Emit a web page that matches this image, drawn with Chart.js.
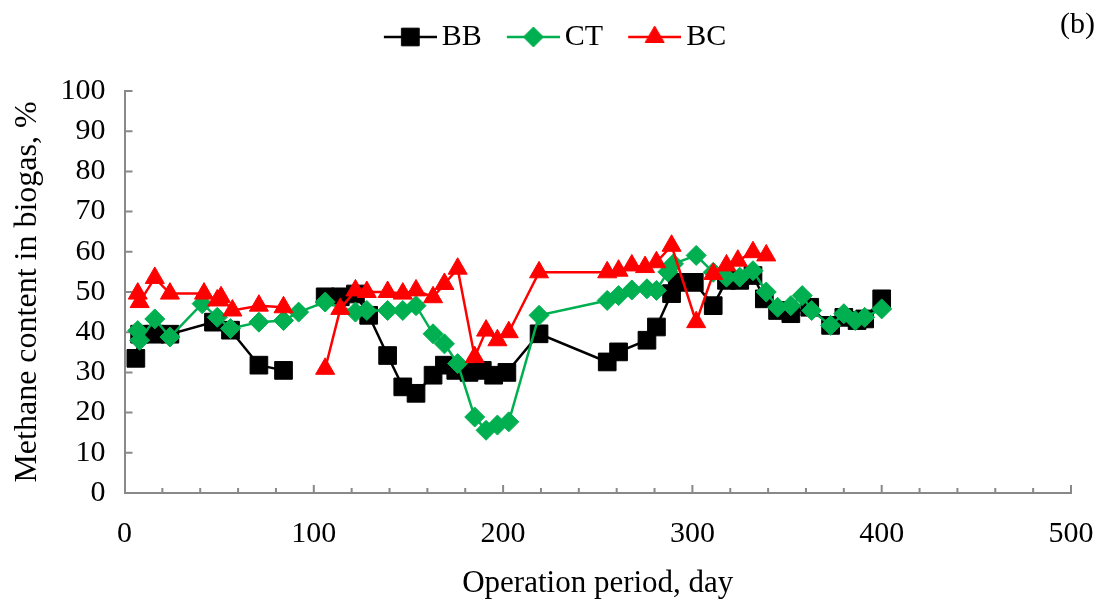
<!DOCTYPE html>
<html>
<head>
<meta charset="utf-8">
<title>Methane content in biogas</title>
<script src="https://cdn.jsdelivr.net/npm/chart.js@4.4.1/dist/chart.umd.min.js"></script>
<style>
  html, body { margin: 0; padding: 0; background: #fff; }
  #wrap { position: relative; width: 1100px; height: 607px; }
</style>
</head>
<body>
<div id="wrap"><canvas id="chart"></canvas></div>
<script>
// BB series (null = break in the line)
const bbDays = [6, 8, 16, 24, 47, 56, 71, 84, 95, 106, 114, 122, 129, 139, 147, 154, 163, 169, 175, 182, 189, 195, 202, 219,
    255, 261, 276, 281, 289, 292, 301, 311, 318, 325, 332, 338, 345, 352, 362, 373, 380, 387, 391, 400];
const bbValues = [33.5, 39.5, 39.5, 39.5, 42.5, 40.5, 31.8, 30.5, null, 48.8, 48.8, 49.5, 44.2, 34.2, 26.4, 24.8, 29.3, 31.8, 30.5, 30, 30.5, 29.3, 30, 39.6,
    32.6, 35.1, 38, 41.3, 49.6, 52.4, 52.4, 46.6, 52.9, 52.9, 54.1, 48.3, 45.4, 44.6, 46.2, 41.7, 43.7, 42.9, 43.3, 48.3];

// CT series
const ctDays = [7, 8, 16, 24, 41, 49, 56, 71, 84, 92, 106, 122, 128, 139, 147, 154, 163, 169, 176, 185, 191, 197, 203, 219,
    255, 261, 268, 276, 281, 287, 290, 302, 311, 318, 325, 332, 339, 345, 352, 358, 363, 373, 380, 386, 391, 400];
const ctValues = [40.4, 38, 43.3, 38.8, 47.1, 43.7, 40.9, 42.5, 42.9, 45, 47.5, 45, 45.4, 45.4, 45.4, 46.6, 39.6, 37.1, 32.2, 18.9, 15.6, 16.9, 17.7, 44.2,
    47.9, 49.1, 50.5, 50.8, 50.4, 55, 57, 59.1, 54.9, 53.7, 53.7, 55.3, 50, 46.2, 46.6, 49.1, 45.4, 41.7, 44.6, 42.9, 43.7, 45.8];

// BC series (null = break in the line)
const bcDays = [7, 8, 16, 24, 42, 49, 51, 57, 71, 84, 95, 106, 114, 122, 128, 139, 147, 154, 163, 169, 176, 185, 191, 197, 203, 219,
    255, 261, 268, 275, 281, 289, 302, 311, 318, 324, 332, 339];
const bcValues = [49.6, 47.5, 53.5, 49.6, 49.6, 47.9, 48.7, 45.4, 46.6, 46.2, null, 30.9, 45.8, 50.4, 50, 50, 49.6, 50.4, 48.7, 52, 55.8, 33.8, 40.4, 38, 40, 54.9,
    54.9, 55.3, 56.6, 56.2, 57.4, 61.5, 42.5, 54.5, 56.6, 57.8, 59.9, 59.1];

const seriesNames = ['BB', 'CT', 'BC'];
const seriesColors = ['#000000', '#00B050', '#FF0000'];

const FONT = "'Liberation Serif', 'Times New Roman', serif";
const AXIS_COLOR = '#898989';

const toPoints = (days, values) => days.map((d, i) => ({x: d, y: values[i]}));

// line + marker pictures for the legend (symbol sits in the right 53px)
function legendSymbol(color, style, radius) {
    const c = document.createElement('canvas');
    c.width = 73;
    c.height = 28;
    const g = c.getContext('2d');
    g.strokeStyle = color;
    g.fillStyle = color;
    g.lineWidth = 2.5;
    g.beginPath();
    g.moveTo(20, 14);
    g.lineTo(73, 14);
    g.stroke();
    g.lineWidth = 1;
    Chart.helpers.drawPoint(g, {pointStyle: style, radius: radius, rotation: 0, borderWidth: 1}, 46.5, 14);
    return c;
}

const markerStyles = ['rect', 'rectRot', 'triangle'];
const markerSizes = [12.5, 10, 11];
const legendSymbols = seriesNames.map((n, i) => legendSymbol(seriesColors[i], markerStyles[i], markerSizes[i]));

// ticks drawn inward like the original, plus the "(b)" tag
const inwardTicks = {
    id: 'inwardTicks',
    beforeDatasetsDraw(chart) {
        const {ctx, chartArea, scales: {x, y}} = chart;
        ctx.save();
        ctx.strokeStyle = AXIS_COLOR;
        ctx.lineWidth = 2;
        ctx.beginPath();
        for (let v = 10; v <= 100; v += 10) {
            const py = y.getPixelForValue(v);
            ctx.moveTo(chartArea.left, py);
            ctx.lineTo(chartArea.left + 8, py);
        }
        for (let v = 20; v <= 500; v += 20) {
            const px = x.getPixelForValue(v);
            const len = v % 100 === 0 ? 8 : 5;
            ctx.moveTo(px, chartArea.bottom);
            ctx.lineTo(px, chartArea.bottom - len);
        }
        ctx.stroke();
        ctx.restore();
    },
    afterDraw(chart) {
        const ctx = chart.ctx;
        ctx.save();
        ctx.font = '30px ' + FONT;
        ctx.fillStyle = '#000';
        ctx.textAlign = 'right';
        ctx.textBaseline = 'middle';
        ctx.fillText('(b)', 1095, 25);
        ctx.restore();
    }
};

const ctx = document.getElementById('chart').getContext('2d');
const myChart = new Chart(ctx, {
    type: 'line',
    data: {
        datasets: [
            {label: 'BB', data: toPoints(bbDays, bbValues), order: 3},
            {label: 'CT', data: toPoints(ctDays, ctValues), order: 2},
            {label: 'BC', data: toPoints(bcDays, bcValues), order: 1}
        ].map((ds, i) => Object.assign(ds, {
            borderColor: seriesColors[i],
            backgroundColor: seriesColors[i],
            borderWidth: 2.5,
            pointStyle: markerStyles[i],
            pointRadius: markerSizes[i],
            pointHoverRadius: markerSizes[i],
            pointBorderWidth: 1,
            spanGaps: false,
            tension: 0
        }))
    },
    options: {
        responsive: true,
        maintainAspectRatio: false,
        animation: false,
        layout: {
            padding: {top: 7, left: 0, right: 0, bottom: 0}
        },
        scales: {
            x: {
                type: 'linear',
                min: 0,
                max: 500,
                ticks: {
                    stepSize: 100,
                    padding: 23,
                    color: '#000',
                    font: {family: FONT, size: 30}
                },
                grid: {drawOnChartArea: false, drawTicks: false},
                border: {color: AXIS_COLOR, width: 2},
                title: {
                    display: true,
                    text: 'Operation period, day',
                    color: '#000',
                    font: {family: FONT, size: 31},
                    padding: {top: 0, bottom: 5}
                },
                afterFit: scale => {
                    scale.height = 114;
                    scale.paddingRight = 29;
                }
            },
            y: {
                min: 0,
                max: 100,
                ticks: {
                    stepSize: 10,
                    padding: 19,
                    color: '#000',
                    font: {family: FONT, size: 30}
                },
                grid: {drawOnChartArea: false, drawTicks: false},
                border: {color: AXIS_COLOR, width: 2},
                title: {
                    display: true,
                    text: 'Methane content in biogas, %',
                    color: '#000',
                    font: {family: FONT, size: 32},
                    padding: {top: 8, bottom: 0}
                },
                afterFit: scale => { scale.width = 124.5; }
            }
        },
        plugins: {
            legend: {
                position: 'top',
                labels: {
                    usePointStyle: true,
                    pointStyleWidth: 53,
                    padding: 15,
                    color: '#000',
                    font: {family: FONT, size: 30},
                    generateLabels: chart => chart.data.datasets.map((ds, i) => ({
                        text: ds.label,
                        datasetIndex: i,
                        pointStyle: legendSymbols[i],
                        fillStyle: seriesColors[i],
                        strokeStyle: seriesColors[i],
                        lineWidth: 0,
                        hidden: false,
                        fontColor: '#000'
                    }))
                }
            },
            // empty spacer between legend and plot
            subtitle: {
                display: true,
                text: '',
                weight: 500,
                font: {size: 10, lineHeight: 1},
                padding: {top: 0, bottom: 19}
            },
            tooltip: {enabled: false}
        }
    },
    plugins: [inwardTicks]
});
</script>
</body>
</html>
